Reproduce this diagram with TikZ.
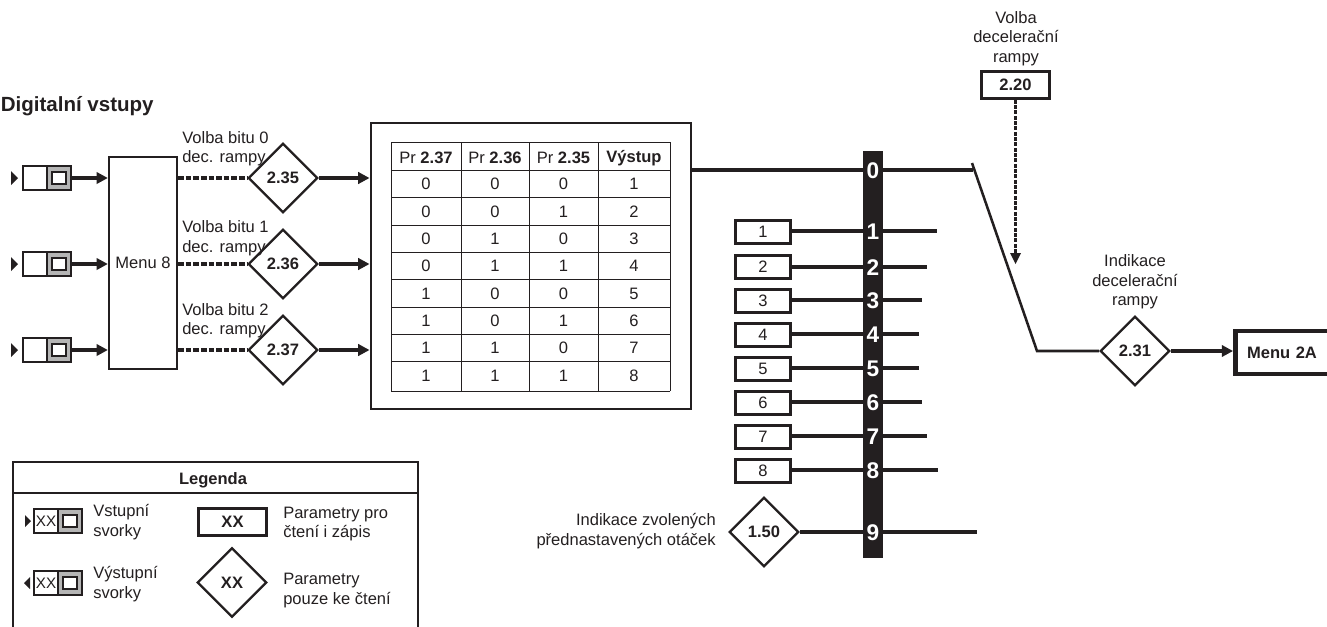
\documentclass[tikz,border=0pt]{standalone}
\usepackage{fontspec}
\setmainfont{Liberation Sans}
\usetikzlibrary{arrows.meta,shapes.geometric,calc}
\definecolor{ink}{HTML}{231F20}
\definecolor{termgrey}{HTML}{B5B5B5}
\newcommand{\bodyfont}{\fontsize{12.4}{14.6}\selectfont}
\tikzset{
  every node/.style={text=ink,font=\bodyfont,inner sep=0pt,align=center},
  boxthin/.style={draw=ink,line width=1.7pt,fill=white},
  param/.style={draw=ink,line width=2.2pt,fill=white,font=\bodyfont\bfseries},
  readonly/.style={diamond,aspect=1,draw=ink,line width=1.7pt,fill=white,minimum width=52pt,minimum height=52pt,font=\bodyfont\bfseries},
  lab/.style={anchor=west,align=left},
  wire/.style={draw=ink,line width=2.4pt},
  wirearrow/.style={wire,-{Triangle[length=8.5pt,width=8.5pt]}},
  dashwire/.style={draw=ink,line width=2.4pt,dash pattern=on 4.2pt off 1.5pt},
  busnum/.style={text=white,font=\fontsize{17}{18}\selectfont\bfseries},
  cell/.style={font=\bodyfont},
  marker/.style={fill=ink},
  grid/.style={draw=ink,line width=0.7pt},
  termwhite/.style={draw=ink,line width=1pt,fill=white,minimum width=18pt,minimum height=18pt,font=\fontsize{11.4}{13}\selectfont},
  termgreyb/.style={draw=ink,line width=1pt,fill=termgrey,minimum width=18pt,minimum height=18pt},
  terminner/.style={draw=ink,line width=1.6pt,fill=white,minimum width=10pt,minimum height=9.5pt},
  terminal/.pic={
    \node[termwhite] (-w) at (-9pt,0) {#1};
    \node[termgreyb] (-g) at (9pt,0) {};
    \node[terminner] (-i) at (9pt,0) {};
  },
}
\begin{document}
\begin{tikzpicture}[x=0.75pt,y=-0.75pt]
\useasboundingbox (0,0) rectangle (1327,626);
\begin{scope}
\clip (0,0) rectangle (1327,626);

% --- title
\node[anchor=west,font=\fontsize{15.4}{18}\selectfont\bfseries] (title) at (0.5,106) {Digitalní vstupy};

% --- input terminals
\pic (t1) at (47,178) {terminal={}};
\pic (t2) at (47,264) {terminal={}};
\pic (t3) at (47,350) {terminal={}};
\fill[marker] (11,171) -- (18,178) -- (11,185) -- cycle;
\fill[marker] (11,257) -- (18,264) -- (11,271) -- cycle;
\fill[marker] (11,343) -- (18,350) -- (11,357) -- cycle;

% --- menu 8
\node[boxthin,minimum width=51pt,minimum height=159pt] (menu8) at (143,263) {Menu 8};

% --- read only parameters
\node[readonly] (d35) at (283,178) {2.35};
\node[readonly] (d36) at (283,264) {2.36};
\node[readonly] (d37) at (283,350) {2.37};

% --- table
\node[draw=ink,line width=2.2pt,fill=white,minimum width=240pt,minimum height=214.5pt] (table) at (531,266) {};
\foreach \x in {391,461,529,598,670} \draw[grid] (\x,142) -- (\x,391);
\foreach \y in {142,170,197,225,252,279,307,334,361,391} \draw[grid] (391,\y) -- (670,\y);
\node[cell] (h1) at (426,158) {Pr \textbf{2.37}};
\node[cell] (h2) at (495,158) {Pr \textbf{2.36}};
\node[cell] (h3) at (563.5,158) {Pr \textbf{2.35}};
\node[cell,font=\bodyfont\bfseries] (h4) at (634,158) {Výstup};
\foreach \a/\b/\c/\o/\y in {0/0/0/1/184,0/0/1/2/212,0/1/0/3/239,0/1/1/4/266,1/0/0/5/294,1/0/1/6/321,1/1/0/7/348,1/1/1/8/376}{
  \node[cell,name=ca\o] at (426,\y) {\a};
  \node[cell,name=cb\o] at (495,\y) {\b};
  \node[cell,name=cc\o] at (563.5,\y) {\c};
  \node[cell,name=co\o] at (634,\y) {\o};
}

% --- preset boxes
\foreach \n/\y in {1/232,2/267,3/301,4/335,5/369,6/403,7/437,8/471}{
  \node[draw=ink,line width=1.9pt,fill=white,minimum width=41pt,minimum height=17.5pt,name=p\n] at (763,\y) {\n};
}
\node[readonly] (d150) at (764,532) {1.50};

% --- bus anchors
\coordinate (b0) at (873,170);
\coordinate (b1) at (873,231);
\coordinate (b2) at (873,267);
\coordinate (b3) at (873,300);
\coordinate (b4) at (873,334);
\coordinate (b5) at (873,368);
\coordinate (b6) at (873,402);
\coordinate (b7) at (873,436);
\coordinate (b8) at (873,470);
\coordinate (b9) at (873,532);
\coordinate (e1) at (937,231);
\coordinate (e2) at (927,267);
\coordinate (e3) at (922,300);
\coordinate (e4) at (919,334);
\coordinate (e5) at (919,368);
\coordinate (e6) at (922,402);
\coordinate (e7) at (927,436);
\coordinate (e8) at (938,470);
\coordinate (e9) at (977,532);

% --- right hand nodes
\node[param,minimum width=51pt,minimum height=20pt] (p220) at (1015.5,85) {2.20};
\node[readonly] (d231) at (1135,351) {2.31};
\node[draw=ink,line width=3.4pt,fill=white,minimum width=85pt,minimum height=32pt,font=\bodyfont\bfseries,text width=85pt] (m2a) at (1292,352.5) {\hspace*{-15pt}Menu 2A};
\coordinate (swtop) at (972,163);
\coordinate (swjoin) at (973,170);
\coordinate (swbot) at (1037,351);
\coordinate (swtip) at (1015.5,264);

% --- connectors
\draw[wirearrow] (t1-g.east) -- (t1-g.east -| menu8.west);
\draw[wirearrow] (t2-g.east) -- (t2-g.east -| menu8.west);
\draw[wirearrow] (t3-g.east) -- (t3-g.east -| menu8.west);
\draw[dashwire] (d35.west -| menu8.east) -- (d35.west);
\draw[dashwire] (d36.west -| menu8.east) -- (d36.west);
\draw[dashwire] (d37.west -| menu8.east) -- (d37.west);
\draw[wirearrow] (d35.east) -- (d35.east -| table.west);
\draw[wirearrow] (d36.east) -- (d36.east -| table.west);
\draw[wirearrow] (d37.east) -- (d37.east -| table.west);
\draw[wire] (b0 -| table.east) -- (b0) -- (swjoin);
\foreach \n in {1,...,8}{
  \draw[wire] (p\n.east |- b\n) -- (b\n) -- (e\n);
}
\draw[wire] (d150.east) -- (b9) -- (e9);
\draw[wire,line width=1.9pt] (swtop) -- (swbot) -- (d231.west);
\draw[wirearrow] (d231.east) -- (d231.east -| m2a.west);
\draw[draw=ink,line width=2.6pt,dash pattern=on 3pt off 1pt] (p220.south) -- (swtip |- 0,254);
\fill[marker] (1010,253) -- (1021,253) -- (swtip) -- cycle;

% --- bus
\node[fill=ink,minimum width=15pt,minimum height=305.5pt] (bus) at (873,354.5) {};
\foreach \n in {0,...,9}{
  \node[busnum,name=n\n] at ($(b\n)+(0,1)$) {\n};
}

% --- labels
\node[lab] (l0) at (182,148.5) {Volba bitu 0\\dec. rampy};
\node[lab] (l1) at (182,238) {Volba bitu 1\\dec. rampy};
\node[lab] (l2) at (182,320.5) {Volba bitu 2\\dec. rampy};
\node[anchor=east,align=right] (lsel) at (716,531) {Indikace zvolených\\přednastavených otáček};
\node (lvol) at (1016,38.5) {Volba\\decelerační\\rampy};
\node (lind) at (1135,282) {Indikace\\decelerační\\rampy};

% --- legend
\draw[draw=ink,line width=2.2pt] (13,640) -- (13,462) -- (418,462) -- (418,640);
\draw[draw=ink,line width=2.2pt] (13,493) -- (418,493);
\node[font=\bodyfont\bfseries] (lg) at (213,480) {Legenda};
\pic (lt1) at (58,521) {terminal={XX}};
\pic (lt2) at (58,583) {terminal={XX}};
\fill[marker] (25,515) -- (31,521) -- (25,527) -- cycle;
\fill[marker] (30,577) -- (24,583) -- (30,589) -- cycle;
\node[lab] (lv) at (93,522) {Vstupní\\svorky};
\node[lab] (lw) at (93,584) {Výstupní\\svorky};
\node[param,minimum width=51pt,minimum height=20pt,line width=2.6pt] (lp) at (232.5,522) {XX};
\node[readonly] (ld) at (232,582.5) {XX};
\node[lab] (lr) at (283,524) {Parametry pro\\čtení i zápis};
\node[lab] (lo) at (283,590.5) {Parametry\\pouze ke čtení};
\end{scope}
\end{tikzpicture}
\end{document}
